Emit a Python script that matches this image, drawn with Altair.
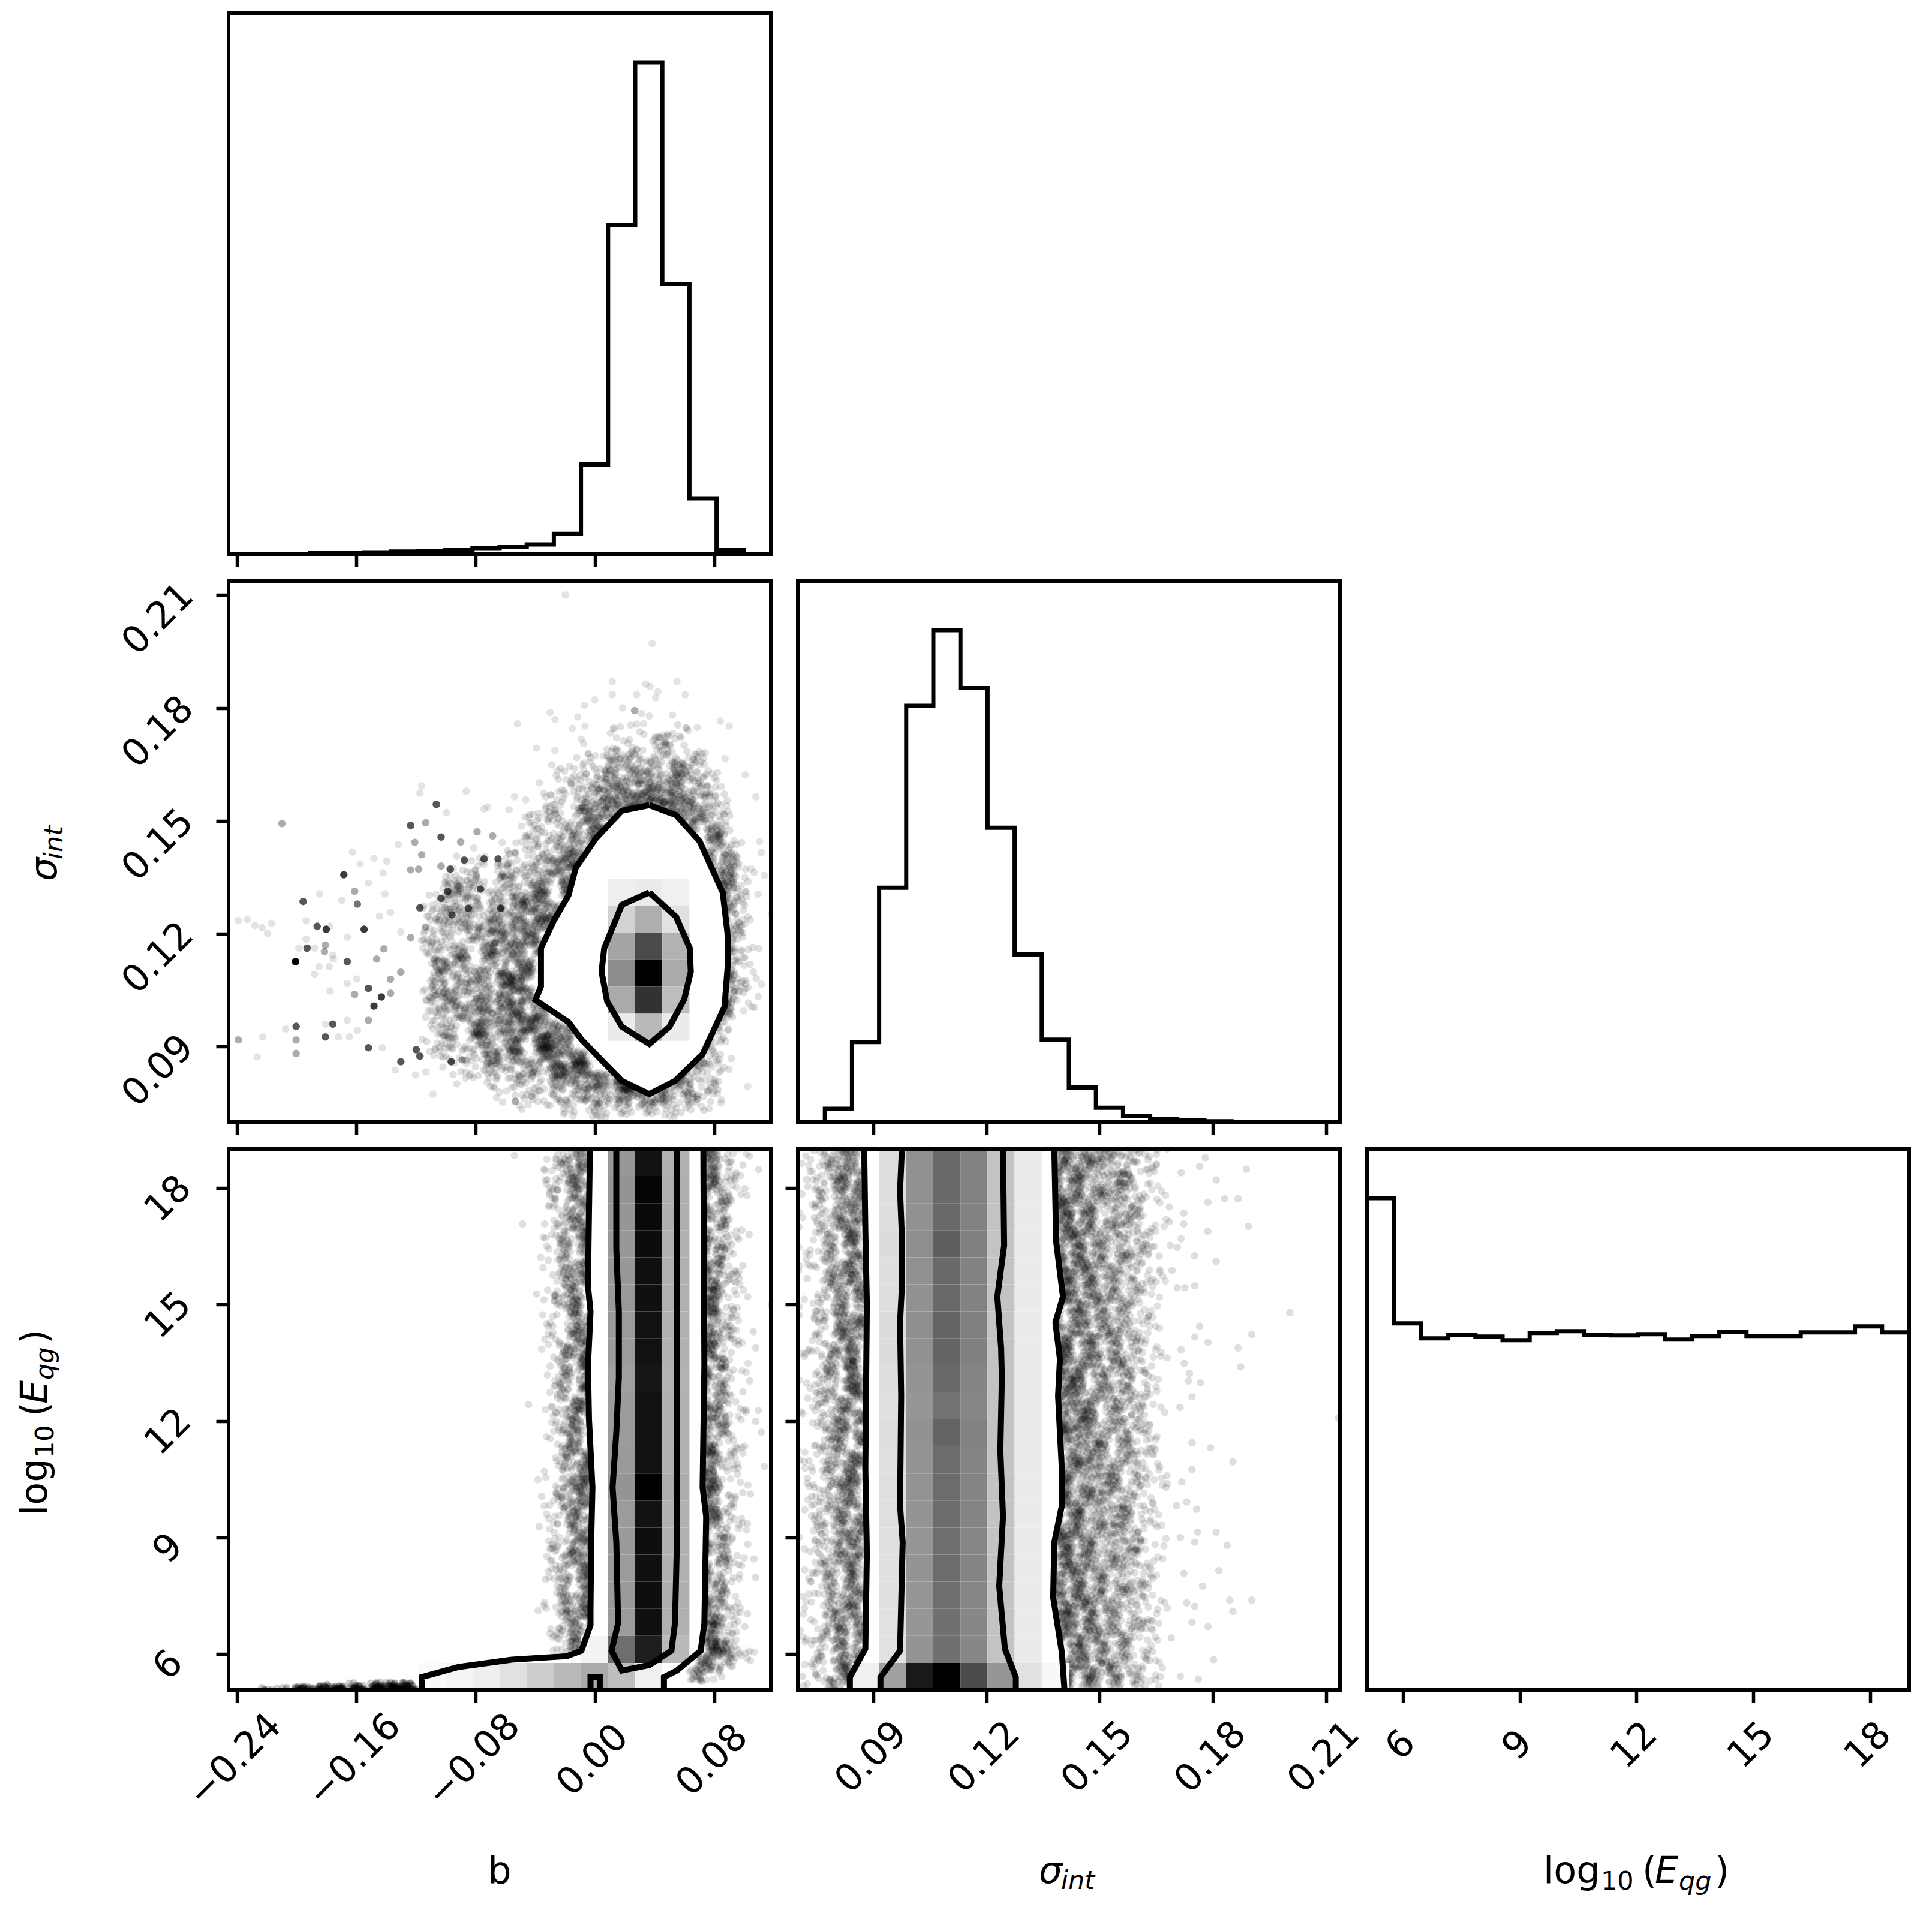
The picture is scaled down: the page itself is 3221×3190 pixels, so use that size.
import altair as alt
import pandas as pd

W, H = 904, 902
FONT = "DejaVu Sans"
B_DOM = [-0.2456, 0.1178]
S_DOM = [0.07, 0.2137]
E_DOM = [5.08, 19.0]
B_TICKS = [-0.24, -0.16, -0.08, 0.0, 0.08]
S_TICKS = [0.09, 0.12, 0.15, 0.18, 0.21]
E_TICKS = [6, 9, 12, 15, 18]

HIST_B = [0, 0, 0, 3, 4, 5, 7, 9, 12, 17, 21, 27, 57, 252, 925, 1383, 760, 157, 12, 0]
HIST_S = [0, 37, 225, 660, 1172, 1385, 1222, 829, 472, 232, 97, 40, 17, 8, 5, 2, 1, 1, 0, 0]
HIST_E = [821, 612, 587, 593, 590, 584, 596, 599, 593, 592, 594, 585, 591, 598, 591, 591, 597, 597, 607, 597]

# order in which the dots of a density cell fill the cell (fractions of a cell)
STIPPLE = [(-0.41, 0.12), (0.33, -0.37), (0.05, 0.46), (-0.18, -0.29), (0.48, 0.22), (-0.52, -0.47), (0.17, 0.03),
           (-0.07, -0.55), (0.39, 0.51), (-0.33, 0.37), (0.56, -0.15), (-0.24, -0.06), (0.11, -0.22), (-0.48, 0.55),
           (0.27, 0.33), (-0.12, 0.19), (0.44, -0.49), (-0.58, -0.19), (0.02, -0.41), (0.36, 0.09), (-0.29, 0.52),
           (0.21, -0.08), (-0.44, -0.33), (0.52, 0.41), (-0.03, 0.28), (0.14, 0.56), (-0.37, -0.52), (0.31, -0.26),
           (-0.16, 0.43)]
# where each cell's dots sit relative to the lattice, so the cells do not line up
CELL_SHIFT = [(0.21, -0.34), (-0.38, 0.17), (0.07, 0.42), (0.45, 0.08), (-0.13, -0.47), (-0.44, -0.09), (0.29, 0.31),
              (-0.05, 0.13), (0.36, -0.21), (-0.27, 0.39), (0.12, -0.12), (-0.49, 0.26), (0.41, -0.41), (-0.19, 0.03),
              (0.03, -0.28), (0.24, 0.47), (-0.33, -0.31), (0.48, 0.19), (-0.09, 0.34), (0.16, -0.46), (-0.41, 0.11),
              (0.33, 0.02), (-0.23, -0.17), (0.09, 0.24), (-0.02, -0.38), (0.39, 0.37), (-0.47, -0.24), (0.27, -0.07),
              (-0.15, 0.46), (0.44, -0.29), (-0.31, 0.21)]

# ---- panel sigma_int vs b -------------------------------------------------
C21_OUTER_X = [0.0364, 0.0544, 0.0701, 0.0856, 0.0888, 0.0893, 0.0868, 0.0721, 0.0536, 0.0364, 0.0180, -0.0091, -0.0177, -0.0399, -0.0362, -0.0362, -0.0276, -0.0177, -0.0128, 0.0007, 0.0180, 0.0364]
C21_OUTER_Y = [0.1542, 0.1515, 0.1446, 0.1310, 0.1201, 0.1133, 0.1006, 0.0880, 0.0809, 0.0774, 0.0809, 0.0919, 0.0965, 0.1024, 0.1060, 0.1162, 0.1235, 0.1303, 0.1376, 0.1454, 0.1527, 0.1542]
C21_INNER_X = [0.0364, 0.0544, 0.0635, 0.0642, 0.0598, 0.0499, 0.0364, 0.0180, 0.0081, 0.0044, 0.0062, 0.0180, 0.0364]
C21_INNER_Y = [0.1310, 0.1245, 0.1162, 0.1099, 0.1026, 0.0953, 0.0907, 0.0953, 0.1021, 0.1099, 0.1162, 0.1277, 0.1310]
W21_X = [-0.0399, -0.0362, -0.0276, -0.0177, -0.0128, 0.0007, 0.0180, 0.0364, 0.0544, 0.0701, 0.0721, 0.0856, 0.0868, 0.0893]
W21_LO = [0.1024, 0.1014, 0.0991, 0.0965, 0.0939, 0.0879, 0.0809, 0.0774, 0.0809, 0.0873, 0.0880, 0.0995, 0.1006, 0.1133]
W21_HI = [0.1024, 0.1162, 0.1235, 0.1303, 0.1376, 0.1454, 0.1527, 0.1542, 0.1515, 0.1446, 0.1425, 0.1310, 0.1290, 0.1133]
HEAT21_KX = [13, 14, 15, 16, 17]
HEAT21_ROWS = {
    9: [255, 252, 250, 252, 255],
    8: [255, 238, 235, 240, 255],
    7: [250, 210, 175, 225, 252],
    6: [248, 165, 75, 178, 250],
    5: [248, 140, 0, 170, 250],
    4: [250, 170, 50, 190, 250],
    3: [255, 235, 185, 235, 255],
    2: [255, 252, 248, 252, 255],
}
DENS21 = [
    "00000000000000101211000000",
    "00000000000010122321100000",
    "00000000000121343423310000",
    "00000000001123545644320000",
    "00000000011234656755331000",
    "00000000012245678876532000",
    "00000000132357899986632000",
    "00000001213579000009742000",
    "00000010323680000000863100",
    "00000021325800000000974200",
    "00112320447900000000085300",
    "01323142558000000000096410",
    "12430524669000000000097310",
    "23251634680000000000086300",
    "14352635790000000000086310",
    "24053746800000000000097300",
    "33516257900000000000087410",
    "24536168000000000000097300",
    "34256378000000000000087310",
    "15346289000000000000097310",
    "34627389000000000000086410",
    "23546379900000000000975100",
    "14256478980000000000863000",
    "02345267899000000009742000",
    "12134556789900000087631000",
    "01023324567890000976521000",
    "00101223245678998775321000",
    "00000102213445677654321000",
    "00000001012233244432110000",
]
PTS21_X = [-0.2391, -0.2330, -0.2280, -0.2231, -0.2194, -0.2170, -0.2098, -0.1956, -0.1847, -0.1695, -0.1683, -0.1611, -0.1592, -0.1518, -0.1407, -0.1481, -0.1395, -0.1624, -0.1574, -0.1419,
           -0.1161, -0.1173, -0.0863, -0.1063, -0.0994, -0.0743, -0.0718, -0.0576, -0.0539, -0.0465, -0.1235, -0.1134, -0.1031, -0.1208, -0.1319, -0.1161, -0.0900, -0.0790, -0.0812, -0.0686, -0.0445, -0.0379,
           -0.1862, -0.1801, -0.1776, -0.1936, -0.1547, -0.1660, -0.1936, -0.1880, -0.1930, -0.1985, -0.1807, -0.1813, -0.1757, -0.2007, -0.2007, -0.1754, -0.1660, -0.1850, -0.1781, -0.1880,
           -0.1776, -0.1660, -0.1611, -0.1596, -0.1518, -0.1431, -0.1481, -0.1370,
           -0.2003, -0.2073, -0.2003, -0.2391, -0.2227, -0.2264, -0.2003, -0.1807, -0.1757, -0.1807, -0.1660, -0.1518, -0.1592, -0.1719, -0.1646, -0.1518, -0.1425, -0.1301, -0.1198, -0.1173, -0.1339, -0.1203, -0.1134, -0.1085, -0.0999, -0.0963, -0.0890,
           -0.1414, -0.1463, -0.1370, -0.1301, -0.1235, -0.1301, -0.1134, -0.1173, -0.1444, -0.1370, -0.1235, -0.1181, -0.1031, -0.0970, -0.0876, -0.0743, -0.0649, -0.0987, -0.0767, -0.0849, -0.1031, -0.0958, -0.0632, -0.0485,
           -0.0199, 0.0384, 0.0116, 0.0549, 0.0340, 0.0369, 0.0421, 0.0116, 0.0278, -0.0002, -0.0071, 0.0406, 0.0605, 0.0185, -0.0300, 0.0266, 0.0519, 0.0364, 0.0311, -0.0115, -0.0268, 0.0899, 0.0840, -0.0519, -0.0152, -0.0066, 0.0127, 0.0611, 0.0685, 0.0326, -0.0091, -0.0391, -0.0268, -0.0042, -0.0251, 0.1006, 0.0871,
           0.1078, 0.1102, 0.1114, 0.1045, 0.1134, 0.1092, 0.1181, 0.1041, 0.1114, 0.0996, 0.1023, 0.0844,
           -0.0534, -0.0201, -0.0017, 0.0069, 0.0180, 0.0339, 0.0620, 0.0498]
PTS21_Y = [0.1235, 0.1238, 0.1222, 0.1216, 0.1201, 0.1228, 0.1493, 0.1286, 0.1306, 0.1289, 0.1357, 0.1313, 0.1279, 0.1335, 0.1306, 0.1401, 0.1393, 0.1417, 0.1386, 0.1362,
           0.1593, 0.1574, 0.1579, 0.1544, 0.1522, 0.1532, 0.1537, 0.1530, 0.1564, 0.1556, 0.1488, 0.1495, 0.1457, 0.1443, 0.1437, 0.1410, 0.1444, 0.1471, 0.1428, 0.1460, 0.1464, 0.1464,
           0.1220, 0.1212, 0.1220, 0.1235, 0.1212, 0.1191, 0.1186, 0.1162, 0.1162, 0.1162, 0.1170, 0.1153, 0.1143, 0.1126, 0.1126, 0.1133, 0.1126, 0.1113, 0.1113, 0.1092,
           0.1048, 0.1068, 0.1039, 0.1080, 0.1055, 0.1032, 0.1008, 0.1042,
           0.0954, 0.0947, 0.0918, 0.0918, 0.0926, 0.0873, 0.0882, 0.0926, 0.0960, 0.0960, 0.0970, 0.0970, 0.0943, 0.0926, 0.0926, 0.0897, 0.0897, 0.0860, 0.0892, 0.0875, 0.0838, 0.0825, 0.0833, 0.0774, 0.0875, 0.0860, 0.0865,
           0.1160, 0.1133, 0.1079, 0.1098, 0.1190, 0.1205, 0.1218, 0.1269, 0.1247, 0.1257, 0.1370, 0.1372, 0.1380, 0.1372, 0.1396, 0.1399, 0.1399, 0.1313, 0.1319, 0.1268, 0.1294, 0.1250, 0.1268, 0.1286,
           0.2100, 0.1971, 0.1870, 0.1870, 0.1863, 0.1857, 0.1843, 0.1835, 0.1835, 0.1821, 0.1807, 0.1827, 0.1835, 0.1800, 0.1788, 0.1793, 0.1781, 0.1779, 0.1785, 0.1776, 0.1769, 0.1752, 0.1765, 0.1758, 0.1745, 0.1752, 0.1744, 0.1748, 0.1748, 0.1758, 0.1717, 0.1693, 0.1687, 0.1678, 0.1634, 0.1622, 0.1665,
           0.1564, 0.1445, 0.1416, 0.1373, 0.1355, 0.1305, 0.1253, 0.1237, 0.1066, 0.0995, 0.0794, 0.0750,
           0.0755, 0.0725, 0.0715, 0.0686, 0.0676, 0.0666, 0.0686, 0.0676]
PTS21_O = [1, 1, 1, 1, 1, 1, 3, 6, 1, 1, 7, 3, 5, 1, 1, 1, 1, 1, 1, 1,
           1, 1, 1, 6, 1, 1, 1, 1, 1, 1, 6, 3, 6, 3, 1, 3, 3, 3, 1, 3, 1, 1,
           6, 7, 1, 1, 7, 1, 1, 1, 6, 1, 3, 3, 1, 1, 9, 1, 6, 1, 1, 1,
           1, 1, 3, 1, 6, 7, 7, 3,
           6, 1, 3, 3, 1, 1, 3, 6, 6, 1, 1, 3, 1, 1, 1, 6, 1, 6, 6, 6, 1, 1, 1, 1, 1, 6, 3,
           3, 3, 3, 3, 3, 1, 3, 6, 1, 1, 3, 3, 3, 6, 6, 6, 6, 6, 6, 6, 6, 6, 6, 3,
           1, 1, 1, 1, 1, 1, 1, 1, 1, 1, 1, 1, 1, 1, 1, 3, 1, 1, 1, 1, 1, 1, 1, 1, 1, 1, 1, 1, 1, 1, 1, 1, 1, 1, 1, 1, 1,
           1, 1, 1, 1, 1, 1, 1, 1, 1, 1, 1, 1,
           3, 1, 1, 1, 1, 1, 1, 1]

# ---- panel E_qg vs b ------------------------------------------------------
C31_OUTER_X = [-0.1161, -0.1161, -0.0915, -0.0558, -0.0189, -0.0091, -0.0030, -0.0030, -0.0025, -0.0017, -0.0040, -0.0047, -0.0030, -0.0047, -0.0042, -0.0034]
C31_OUTER_Y = [5.08, 5.41, 5.67, 5.86, 5.95, 6.09, 6.75, 7.18, 8.97, 10.29, 12.04, 13.41, 14.82, 15.48, 16.90, 19.0]
C31_RIGHT_X = [0.0462, 0.0462, 0.0549, 0.0708, 0.0733, 0.0745, 0.0721, 0.0733, 0.0726]
C31_RIGHT_Y = [5.08, 5.41, 5.58, 6.09, 6.80, 9.54, 10.29, 13.41, 19.0]
C31_INNER_X = [0.0143, 0.0143, 0.0160, 0.0160, 0.0143, 0.0118, 0.0143, 0.0155, 0.0111, 0.0180, 0.0364, 0.0512, 0.0536, 0.0549, 0.0549]
C31_INNER_Y = [19.0, 16.42, 14.82, 13.12, 11.71, 10.29, 8.88, 6.80, 6.09, 5.58, 5.72, 6.09, 6.80, 8.88, 19.0]
C31_TINY_X = [-0.0030, -0.0030, 0.0032, 0.0032]
C31_TINY_Y = [5.08, 5.41, 5.41, 5.08]
W31_Y = [19.0, 16.9, 15.48, 14.82, 13.41, 12.04, 10.29, 9.54, 8.97, 6.75, 6.09, 5.95, 5.86, 5.67, 5.58, 5.41, 5.08]
W31_L = [-0.0034, -0.0042, -0.0047, -0.0030, -0.0047, -0.0040, -0.0017, -0.0025, -0.0030, -0.0030, -0.0091, -0.0189, -0.0558, -0.0915, -0.1000, -0.1161, -0.1161]
W31_R = [0.0726, 0.0726, 0.0726, 0.0726, 0.0733, 0.0735, 0.0721, 0.0745, 0.0738, 0.0733, 0.0708, 0.0690, 0.0680, 0.0610, 0.0549, 0.0462, 0.0462]
HEAT31_K14 = [152, 148, 150, 152, 152, 153, 155, 155, 160, 156, 156, 154, 148, 155, 154, 155, 154, 155]
HEAT31_K15 = [18, 5, 10, 12, 15, 16, 17, 17, 22, 18, 18, 17, 0, 18, 14, 16, 14, 16]
HEAT31_K16 = [176, 174, 175, 176, 176, 176, 177, 177, 178, 177, 177, 176, 172, 177, 176, 176, 175, 176]
HEAT31_ROW18 = {13: 243, 14: 110, 15: 30, 16: 185}
HEAT31_ROW19 = {7: 250, 8: 245, 9: 238, 10: 225, 11: 205, 12: 185, 13: 170, 14: 190, 15: 240}
DENS31_L = ["002453", "013455", "001546", "012365", "003546", "011455", "002356", "001465", "012546", "003355",
            "010456", "002546", "001355", "012456", "003465", "001546", "010355", "002456", "013546", "001365",
            "002455", "010546", "003356", "001465", "012455", "003546", "001356", "010465", "002546", "002355",
            "010456", "003565", "001456", "012355", "002546", "001465", "003356", "011455", "002546", "001365",
            "010456", "003555", "012446", "001365", "012456", "002455", "001355", "000000", "000000", "000000"]
DENS31_R = ["7421", "6510", "7311", "6420", "7521", "6310", "7410", "7320", "6511", "7420",
            "6310", "7521", "7320", "6411", "7510", "6320", "7411", "6421", "7310", "6520",
            "7411", "6320", "7510", "6411", "7321", "6510", "7420", "7311", "6521", "7310",
            "6420", "7511", "6320", "7410", "6521", "7311", "6420", "7510", "6321", "7411",
            "6510", "7320", "6421", "7511", "7320", "6410", "7321", "0000", "0000", "0000"]
DENS31_C = ["00067210", "00764210", "06431000"]
STRIP_HI = "00000001012223456"
STRIP_LO = "13025667786789999"
PTS31_X = [-0.0539, -0.0337, -0.0332, -0.0485, -0.0337, -0.0332, -0.0283, -0.0391, -0.0342, -0.0283, -0.0276, -0.0445, -0.0300, -0.0357, -0.0256, -0.0374, -0.0312, -0.0342, -0.0288,
           0.1097, 0.0991, 0.1004, 0.1033, 0.0991, 0.0967, 0.1023, 0.1181, 0.1060, 0.1077, 0.1036, 0.0991, 0.0996, 0.1095, 0.1077, 0.1114, 0.1134, 0.1041, 0.1023, 0.1065, 0.1077, 0.1021, 0.1004, 0.0893, 0.0844, 0.0770]
PTS31_Y = [18.83, 18.45, 18.2, 17.07, 17.07, 16.71, 15.76, 15.27, 15.12, 14.44, 13.64, 12.42, 13.41, 10.06, 10.12, 9.28, 8.12, 7.25, 8.83,
           18.47, 18.59, 17.98, 16.80, 16.0, 15.67, 15.2, 14.99, 14.30, 13.88, 13.03, 12.75, 12.27, 12.27, 11.99, 11.71, 10.83, 10.12, 8.83, 8.45, 7.98, 7.04, 6.71, 5.95, 5.67, 5.62]

# ---- panel E_qg vs sigma --------------------------------------------------
C32_A_X = [0.0876, 0.0879, 0.0883, 0.0879, 0.0883, 0.0879, 0.0838, 0.0838]
C32_A_Y = [19.0, 16.9, 15.01, 10.76, 8.59, 6.14, 5.41, 5.08]
C32_B_X = [0.0976, 0.0971, 0.0976, 0.0976, 0.0971, 0.0974, 0.0971, 0.0978, 0.0971, 0.0919, 0.0919]
C32_B_Y = [19.0, 17.93, 16.71, 15.48, 14.54, 12.65, 9.82, 8.88, 6.09, 5.41, 5.08]
C32_C_X = [0.1244, 0.1247, 0.1229, 0.1239, 0.1241, 0.1237, 0.1244, 0.1234, 0.1249, 0.1278, 0.1278]
C32_C_Y = [19.0, 16.52, 15.20, 13.88, 13.12, 11.24, 9.54, 7.75, 6.14, 5.41, 5.08]
C32_D_X = [0.1380, 0.1385, 0.1403, 0.1383, 0.1395, 0.1390, 0.1400, 0.1400, 0.1380, 0.1377, 0.1400, 0.1407]
C32_D_Y = [19.0, 16.61, 15.20, 14.54, 13.59, 12.65, 10.76, 9.82, 8.88, 7.46, 6.05, 5.08]
W32_Y = [19.0, 16.9, 16.61, 15.20, 14.54, 13.59, 12.65, 10.76, 9.82, 8.88, 7.46, 6.14, 6.05, 5.41, 5.08]
W32_L = [0.0876, 0.0879, 0.0880, 0.0882, 0.0881, 0.0880, 0.0880, 0.0879, 0.0881, 0.0882, 0.0881, 0.0879, 0.0875, 0.0838, 0.0838]
W32_R = [0.1380, 0.1385, 0.1385, 0.1403, 0.1383, 0.1395, 0.1390, 0.1400, 0.1400, 0.1380, 0.1377, 0.1398, 0.1400, 0.1404, 0.1407]
HEAT32_K3 = [222, 222, 222, 220, 222, 222, 220, 220, 222, 224, 222, 223, 223, 223, 224, 224, 224, 225, 225]
HEAT32_K4 = [145, 145, 145, 142, 145, 145, 143, 145, 148, 150, 146, 147, 147, 148, 150, 148, 150, 150, 148]
HEAT32_K5 = [105, 105, 105, 95, 105, 105, 100, 100, 105, 115, 100, 108, 108, 108, 110, 108, 110, 112, 112]
HEAT32_K6 = [130, 130, 130, 128, 130, 130, 128, 128, 132, 135, 130, 132, 132, 132, 134, 132, 134, 135, 135]
HEAT32_K7 = [195] * 19
HEAT32_K8 = [235] * 19
HEAT32_ROW19 = {2: 240, 3: 160, 4: 25, 5: 0, 6: 75, 7: 150, 8: 225, 9: 248}
DENS32_L = ["013456", "102345", "012556", "003466", "112345", "012456", "101356", "012465", "002356", "112446",
            "012365", "101456", "003456", "012346", "110455", "013356", "002466", "011345", "102456", "013365",
            "002456", "112346", "010566", "013456", "102345", "012466", "003356", "012546", "101345", "012456",
            "113355", "002466", "011456", "102345", "013456", "012365", "103456", "001346", "012456", "113345",
            "002466", "012356", "101456", "012345", "003466", "112356", "012445", "102356", "011465", "103566"]
DENS32_R = ["7665443210", "7556342110", "8664352100", "7655433110", "7565442210", "8654343100", "7665352110", "6755443200", "7664342110", "8565433210",
            "7654452100", "7665343110", "6765442210", "8654353100", "7565433110", "7664442200", "8655342110", "7564453100", "7665343210", "6755442110",
            "7664353100", "8565433210", "7654442110", "7665352200", "6764433110", "8655443100", "7565342210", "7664453110", "8654343200", "7765432110",
            "6655443210", "7564352110", "8665343100", "7655442210", "7664433110", "6765352100", "8654443210", "7565343110", "7664452200", "8655332110",
            "7564443100", "7665352210", "6755433110", "8664442100", "7565343210", "7654452110", "8665333100", "7564442210", "7765352110", "8865443210"]
PTS32_X = [0.1780, 0.1765, 0.1716, 0.1889, 0.1809, 0.1787, 0.1831, 0.1867, 0.1685, 0.1723, 0.1685, 0.1723, 0.1894, 0.1787, 0.1716, 0.1687, 0.1706, 0.1752, 0.1809, 0.1692, 0.1658, 0.1752, 0.1726, 0.1706, 0.2004, 0.1765, 0.1903, 0.1752, 0.1787, 0.1867, 0.1716, 0.1874, 0.1724, 0.1738, 0.1767, 0.1736, 0.1745, 0.1713, 0.2133, 0.1745, 0.1794, 0.1853, 0.1745, 0.1718, 0.1679, 0.1704, 0.1731, 0.1757, 0.1760, 0.1809, 0.1752, 0.1838, 0.1714, 0.1816, 0.1773, 0.1723, 0.1845, 0.1903, 0.1853, 0.1731, 0.1752, 0.1787, 0.1745, 0.1802, 0.1762, 0.1714, 0.1690,
           0.0723, 0.0703, 0.0744, 0.0747, 0.0725, 0.0744, 0.0728, 0.0752, 0.0747, 0.0703, 0.0744, 0.0747, 0.0744, 0.0747, 0.0752, 0.0732, 0.0744, 0.0718, 0.0754, 0.0723, 0.0752, 0.0713, 0.0776]
PTS32_Y = [18.78, 18.55, 18.39, 18.48, 18.2, 17.63, 17.72, 17.72, 17.51, 17.35, 17.13, 17.07, 17.01, 16.88, 16.69, 16.52, 16.47, 16.25, 16.11, 15.88, 16.24, 15.48, 15.43, 15.43, 14.79, 14.44, 14.23, 14.16, 14.02, 13.88, 13.83, 13.39, 13.48, 13.22, 12.98, 13.03, 12.62, 12.35, 12.07, 11.44, 11.31, 10.95, 10.75, 10.43, 10.39, 9.82, 9.92, 9.73, 9.14, 9.14, 8.88, 8.80, 9.0, 8.15, 7.75, 8.08, 7.39, 7.39, 7.10, 7.32, 7.23, 6.71, 6.82, 5.86, 5.36, 5.43, 6.42,
           18.22, 16.99, 17.23, 16.85, 15.67, 16.0, 13.8, 13.26, 14.25, 14.73, 12.93, 11.38, 10.29, 10.06, 9.28, 8.64, 8.08, 7.18, 7.56, 6.38, 5.86, 5.43, 5.39]


def gray(v):
    return "#%02x%02x%02x" % (v, v, v)


def edge(dom, k):
    return dom[0] + k * (dom[1] - dom[0]) / 20


def grid_df(rows, x0, dx, y0, dy, per=2.6, alpha=0.12):
    """Each digit is the estimated darkness of one cell, drawn as that many sample dots."""
    out = []
    c = 0
    cell = 0
    for j, row in enumerate(rows):
        for i, ch in enumerate(row):
            sx, sy = CELL_SHIFT[cell % len(CELL_SHIFT)]
            cell += 1
            for _ in range(round(int(ch) * per)):
                ox, oy = STIPPLE[c % len(STIPPLE)]
                c += 1
                out.append({"x": x0 + (i + ox + sx) * dx, "y": y0 - (j + oy + sy) * dy, "o": alpha})
    return pd.DataFrame(out)


def xscale(dom):
    return alt.Scale(domain=dom, nice=False, zero=False)


def axis(ticks, fmt=None, labels=True, padding=0, offset=0):
    kw = dict(title=None, values=ticks, grid=False, domain=False, tickSize=21, tickWidth=5.5, tickColor="black",
              labels=labels, labelAngle=315, labelAlign="center", labelBaseline="middle", labelFont=FONT,
              labelFontSize=62, labelColor="black", labelPadding=padding, labelOffset=offset, labelOverlap=False,
              labelBound=False, labelFlush=False, labelLimit=500, zindex=0)
    if fmt:
        kw["format"] = fmt
    return alt.Axis(**kw)


class Panel:
    def __init__(self, xdom, ydom, xaxis, yaxis):
        self.X = alt.X("x:Q", scale=xscale(xdom), axis=xaxis)
        self.Y = alt.Y("y:Q", scale=xscale(ydom), axis=yaxis)
        self.xdom, self.ydom = xdom, ydom
        self.layers = []

    def circles(self, df, size=156):
        self.layers.append(alt.Chart(df).mark_circle(size=size, clip=True, stroke=None, color="black").encode(
            x=self.X, y=self.Y, opacity=alt.Opacity("o:Q", scale=None)))

    def line(self, xs, ys, width=10):
        df = pd.DataFrame({"x": xs, "y": ys, "i": range(len(xs))})
        self.layers.append(alt.Chart(df).mark_line(color="black", strokeWidth=width, clip=True, strokeJoin="miter").encode(
            x=self.X, y=self.Y, order=alt.Order("i:Q")))

    def white_v(self, xs, lo, hi):
        df = pd.DataFrame({"x": xs, "y": lo, "y2": hi})
        self.layers.append(alt.Chart(df).mark_area(color="white", opacity=1).encode(
            x=self.X, y=self.Y, y2=alt.Y2("y2:Q")))

    def white_h(self, ys, left, right):
        df = pd.DataFrame({"y": ys, "x": left, "x2": right})
        self.layers.append(alt.Chart(df).mark_area(color="white", opacity=1, orient="horizontal").encode(
            x=self.X, x2=alt.X2("x2:Q"), y=self.Y))

    def cells(self, cells):
        df = pd.DataFrame([{"x": edge(self.xdom, k), "x2": edge(self.xdom, k + 1),
                            "y": edge(self.ydom, r), "y2": edge(self.ydom, r + 1), "c": gray(v)} for k, r, v in cells])
        self.layers.append(alt.Chart(df).mark_rect(clip=True).encode(
            x=self.X, x2=alt.X2("x2:Q"), y=self.Y, y2=alt.Y2("y2:Q"), color=alt.Color("c:N", scale=None)))

    def hist(self, vals):
        xs, ys = [edge(self.xdom, 0)], [0]
        for k, v in enumerate(vals):
            xs += [edge(self.xdom, k), edge(self.xdom, k + 1)]
            ys += [v, v]
        xs.append(edge(self.xdom, 20))
        ys.append(0)
        self.line(xs, ys, width=7)

    def text(self, s, x, y, size=62, style="normal", angle=0, align="left"):
        self.layers.append(alt.Chart(pd.DataFrame({"a": [0]})).mark_text(
            text=s, font=FONT, fontSize=size, fontStyle=style, angle=angle, align=align, baseline="alphabetic",
            color="black").encode(x=alt.value(x), y=alt.value(y)))

    def build(self):
        frame = alt.Chart(pd.DataFrame({"a": [0]})).mark_rect(fillOpacity=0, stroke="black", strokeWidth=6).encode(
            x=alt.value(0), x2=alt.value(W), y=alt.value(0), y2=alt.value(H))
        return alt.layer(*self.layers, frame).properties(width=W, height=H)


# row 1 -------------------------------------------------------------------
p11 = Panel(B_DOM, [0, 1.1 * max(HIST_B)], axis(B_TICKS, labels=False), None)
p11.hist(HIST_B)

# row 2 -------------------------------------------------------------------
p21 = Panel(B_DOM, S_DOM, axis(B_TICKS, labels=False), axis(S_TICKS, ".2f", padding=97, offset=40))
p21.circles(grid_df(DENS21, -0.11, 0.00884, 0.1727, 0.0035, per=3.6))
p21.circles(pd.DataFrame({"x": PTS21_X, "y": PTS21_Y, "o": [v * 0.11 for v in PTS21_O]}))
p21.white_v(W21_X, W21_LO, W21_HI)
p21.cells([(k, r, v) for r, vals in HEAT21_ROWS.items() for k, v in zip(HEAT21_KX, vals) if v < 248])
p21.line(C21_OUTER_X, C21_OUTER_Y)
p21.line(C21_INNER_X, C21_INNER_Y)
p21.text("σ", -287, 500, style="italic", angle=270)
p21.text("int", -277, 464, size=43, style="italic", angle=270)

p22 = Panel(S_DOM, [0, 1.1 * max(HIST_S)], axis(S_TICKS, labels=False), None)
p22.hist(HIST_S)

# row 3 -------------------------------------------------------------------
p31 = Panel(B_DOM, E_DOM, axis(B_TICKS, ".2f", padding=96, offset=-4), axis(E_TICKS, "d", padding=80, offset=18))
p31.circles(grid_df(DENS31_L, -0.0386, 0.00724, 18.9, 0.2775))
p31.circles(grid_df(DENS31_R, 0.0752, 0.00724, 18.9, 0.2775))
p31.circles(grid_df(DENS31_C, 0.0570, 0.00724, 6.1, 0.2775))
p31.circles(pd.DataFrame({"x": PTS31_X, "y": PTS31_Y, "o": [0.13] * len(PTS31_X)}))
p31.circles(grid_df([STRIP_HI, STRIP_LO], -0.2260, 0.0064, 5.2, 0.09, per=2.5, alpha=0.2))
p31.white_h(W31_Y, W31_L, W31_R)
cells31 = []
for t in range(18):
    r = 19 - t
    for k, col in zip([14, 15, 16], [HEAT31_K14, HEAT31_K15, HEAT31_K16]):
        cells31.append((k, r, col[t]))
cells31 += [(k, 1, v) for k, v in HEAT31_ROW18.items()]
cells31 += [(k, 0, v) for k, v in HEAT31_ROW19.items()]
p31.cells(cells31)
p31.line(C31_OUTER_X, C31_OUTER_Y)
p31.line(C31_RIGHT_X, C31_RIGHT_Y)
p31.line(C31_INNER_X, C31_INNER_Y)
p31.line(C31_TINY_X, C31_TINY_Y)
p31.text("b", 452, 1224, align="center")
LOG_X = 77 - 380
for s, d, sz, st, sub in [("log", 0, 62, "normal", 0), ("10", 96, 43, "normal", 11), ("(", 165, 62, "normal", 0),
                          ("E", 186, 62, "italic", 0), ("qg", 226, 43, "italic", 11), (")", 286, 62, "normal", 0)]:
    p31.text(s, LOG_X + sub, 611 - d, size=sz, style=st, angle=270)

p32 = Panel(S_DOM, E_DOM, axis(S_TICKS, ".2f", padding=91, offset=-4), axis(E_TICKS, labels=False))
p32.circles(grid_df(DENS32_L, 0.0715, 0.00286, 18.9, 0.2775))
p32.circles(grid_df(DENS32_R, 0.1395, 0.00318, 18.9, 0.2775))
p32.circles(pd.DataFrame({"x": PTS32_X, "y": PTS32_Y, "o": [0.13] * len(PTS32_X)}))
p32.white_h(W32_Y, W32_L, W32_R)
cells32 = []
for t in range(19):
    r = 19 - t
    for k, col in zip(range(3, 9), [HEAT32_K3, HEAT32_K4, HEAT32_K5, HEAT32_K6, HEAT32_K7, HEAT32_K8]):
        cells32.append((k, r, col[t]))
cells32 += [(k, 0, v) for k, v in HEAT32_ROW19.items()]
p32.cells(cells32)
p32.line(C32_A_X, C32_A_Y)
p32.line(C32_B_X, C32_B_Y)
p32.line(C32_C_X, C32_C_Y)
p32.line(C32_D_X, C32_D_Y)
p32.text("σ", 402, 1224, style="italic")
p32.text("int", 439, 1234, size=43, style="italic")

p33 = Panel(E_DOM, [0, 1.1 * max(HIST_E)], axis(E_TICKS, "d", padding=71, offset=-4), None)
p33.hist(HIST_E)
for s, d, sz, st, sub in [("log", 294, 62, "normal", 0), ("10", 390, 43, "normal", 11), ("(", 459, 62, "normal", 0),
                          ("E", 480, 62, "italic", 0), ("qg", 520, 43, "italic", 11), (")", 580, 62, "normal", 0)]:
    p33.text(s, d, 1224 + sub, size=sz, style=st)


def blank():
    return alt.Chart(pd.DataFrame({"a": [0]})).mark_point(opacity=0).encode(
        x=alt.value(0), y=alt.value(0)).properties(width=W, height=H)


chart = alt.concat(
    p11.build(), blank(), blank(),
    p21.build(), p22.build(), blank(),
    p31.build(), p32.build(), p33.build(),
    columns=3, spacing=45, bounds="flush",
).properties(padding={"left": 20, "top": 11, "right": 5, "bottom": 5}, background="white"
).configure_view(stroke=None)

chart.save("out.html", embed_options={"renderer": "svg", "actions": False})
